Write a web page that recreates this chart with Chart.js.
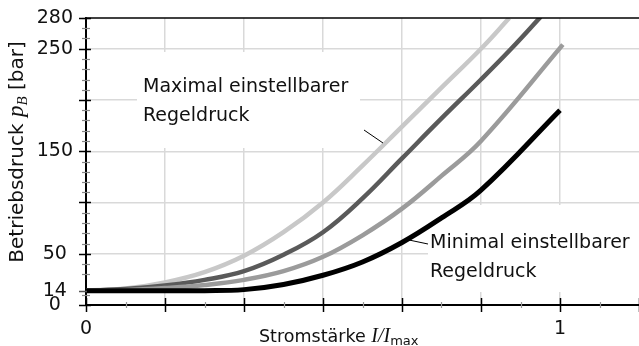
<!DOCTYPE html>
<html><head><meta charset="utf-8">
<script src="https://cdn.jsdelivr.net/npm/chart.js@4.4.1/dist/chart.umd.min.js"></script>
<style>html,body{margin:0;padding:0;background:#fff}#wrap{width:639px;height:346px;position:relative}</style>
</head><body><div id="wrap"><canvas id="c"></canvas></div>
<script>
// ---- data ----
const xMin = 0, xMax = 7/6;
const yMin = 0, yMax = 280;

const xLight = [0, 1/12, 2/12, 3/12, 4/12, 5/12, 6/12, 7/12, 8/12, 9/12, 10/12, 0.893];
const yLight = [14, 16, 22, 32, 48, 71, 100, 136, 174, 212, 250, 280];

const xDark = [0, 1/12, 2/12, 3/12, 4/12, 5/12, 6/12, 7/12, 8/12, 9/12, 10/12, 0.897, 0.959];
const yDark = [14, 15.5, 19, 24.5, 33, 49, 71, 104, 143, 182, 220, 250, 281];

const xMid = [0, 1/12, 2/12, 3/12, 4/12, 5/12, 6/12, 7/12, 8/12, 9/12, 10/12, 1.006];
const yMid = [14, 14.5, 16.5, 19.5, 24.5, 33, 47, 68, 94, 126, 160, 254];

const xBlack = [0, 1/12, 2/12, 3/12, 4/12, 5/12, 6/12, 7/12, 8/12, 9/12, 10/12, 1.0];
const yBlack = [14, 14, 14, 14, 15, 20, 29, 42, 61, 85, 112, 190];

const xLabelValues = [0, 1];
const xLabelTexts = ['0', '1'];
const xMajorStep = 1/6;
const yLabelValues = [0, 14, 50, 150, 250, 280];
const yGridValues = [50, 100, 150, 200, 250];
const yMinorStep = 10;

const annMax = ['Maximal einstellbarer', 'Regeldruck'];
const annMin = ['Minimal einstellbarer', 'Regeldruck'];

// ---- helpers ----
const SANS = '"DejaVu Sans"';
const pts = (xs, ys) => xs.map((v, i) => ({x: v, y: ys[i]}));
const near = (a, b) => Math.abs(a - b) < 1e-6;

function richWidth(ctx, segs){
  let w = 0; for (const s of segs){ ctx.font = s.font; w += ctx.measureText(s.t).width; } return w;
}
function drawRich(ctx, segs, x, y){
  let cx = x;
  for (const s of segs){ ctx.font = s.font; ctx.fillText(s.t, cx, y + (s.dy||0)); cx += ctx.measureText(s.t).width; }
}

const decor = {
  id: 'decor',
  beforeDatasetsDraw(chart){
    const {ctx, chartArea: a} = chart;
    ctx.save();
    ctx.fillStyle = '#fff';
    ctx.fillRect(137, 52, 223, 96);
    ctx.fillRect(428, 205, a.right - 428, 87);
    ctx.restore();
  },
  afterDraw(chart){
    const {ctx, chartArea: a, scales: {x, y}} = chart;
    ctx.save();
    // top border
    ctx.strokeStyle = '#000'; ctx.lineWidth = 1.6;
    ctx.beginPath(); ctx.moveTo(a.left, a.top); ctx.lineTo(a.right, a.top); ctx.stroke();
    // y tick marks
    for (let v = yMin; v <= yMax + 1e-6; v += yMinorStep){
      const py = Math.round(y.getPixelForValue(v)) + 0.5;
      const major = v % 50 === 0;
      if (!major && v === 20) continue;
      ctx.beginPath();
      if (major){ ctx.strokeStyle = '#000'; ctx.lineWidth = 1.5; ctx.moveTo(a.left - 7, py); ctx.lineTo(a.left + 5, py); }
      else { ctx.strokeStyle = '#888'; ctx.lineWidth = 1.2; ctx.moveTo(a.left - 4, py); ctx.lineTo(a.left + 4, py); }
      ctx.stroke();
    }
    for (const v of [14, 280]){
      const py = Math.round(y.getPixelForValue(v)) + 0.5;
      ctx.beginPath(); ctx.strokeStyle = v === 14 ? '#555' : '#000'; ctx.lineWidth = 1.5;
      ctx.moveTo(a.left - 7, py); ctx.lineTo(a.left + (v === 14 ? 1 : 5), py); ctx.stroke();
    }
    // x tick marks
    for (let k = 0; k <= 7; k++){
      const v = k * xMajorStep;
      if (v <= xMax + 1e-6){
        const px = Math.round(x.getPixelForValue(v)) + 0.5;
        ctx.beginPath(); ctx.strokeStyle = '#000'; ctx.lineWidth = 1.5;
        ctx.moveTo(px, a.bottom - 7); ctx.lineTo(px, a.bottom + 7); ctx.stroke();
      }
      const m = v + xMajorStep / 2;
      if (m < xMax){
        const pm = Math.round(x.getPixelForValue(m)) + 0.5;
        ctx.beginPath(); ctx.strokeStyle = '#999'; ctx.lineWidth = 1.2;
        ctx.moveTo(pm, a.bottom - 3); ctx.lineTo(pm, a.bottom + 3); ctx.stroke();
      }
    }
    // annotations
    ctx.fillStyle = '#111';
    ctx.font = '19px ' + SANS;
    ctx.textBaseline = 'alphabetic'; ctx.textAlign = 'left';
    ctx.fillText(annMax[0], 143, 92);
    ctx.fillText(annMax[1], 143, 121);
    ctx.fillText(annMin[0], 430, 248);
    ctx.fillText(annMin[1], 430, 277);
    ctx.strokeStyle = '#000'; ctx.lineWidth = 1;
    ctx.beginPath(); ctx.moveTo(364, 130); ctx.lineTo(383, 143); ctx.stroke();
    ctx.beginPath(); ctx.moveTo(409, 240); ctx.lineTo(428, 244); ctx.stroke();
    // x title
    const xt = [
      {t: 'Stromstärke ', font: '17.5px ' + SANS},
      {t: 'I', font: 'italic 20px "Liberation Serif"'},
      {t: '/', font: 'italic 20px "Liberation Serif"'},
      {t: 'I', font: 'italic 20px "Liberation Serif"'},
      {t: 'max', font: '13px ' + SANS, dy: 3}
    ];
    drawRich(ctx, xt, 259, 342);
    // y title
    const yt = [
      {t: 'Betriebsdruck ', font: '20px ' + SANS},
      {t: 'p', font: 'italic 23px "Liberation Serif"'},
      {t: 'B', font: 'italic 15px "Liberation Serif"', dy: 4},
      {t: ' [bar]', font: '20px ' + SANS}
    ];
    ctx.save();
    ctx.translate(23, 152); ctx.rotate(-Math.PI / 2);
    drawRich(ctx, yt, -richWidth(ctx, yt) / 2, 0);
    ctx.restore();
    ctx.restore();
  }
};

const line = (xs, ys, color, w, order) => ({
  data: pts(xs, ys), borderColor: color, borderWidth: w, pointRadius: 0, pointHoverRadius: 0,
  tension: 0.4, fill: false, order
});

new Chart(document.getElementById('c'), {
  type: 'line',
  data: { datasets: [
    line(xLight, yLight, '#c8c8c8', 4.5, 3),
    line(xDark, yDark, '#5a5a5a', 4.5, 2),
    line(xMid, yMid, '#9b9b9b', 4.5, 1),
    line(xBlack, yBlack, '#000000', 5, 0)
  ]},
  options: {
    responsive: true, maintainAspectRatio: false, animation: false,
    devicePixelRatio: 1,
    layout: { autoPadding: false, padding: { top: 18, right: 0, left: 0, bottom: 0 } },
    plugins: { legend: { display: false }, tooltip: { enabled: false } },
    scales: {
      x: {
        type: 'linear', min: xMin, max: xMax,
        afterBuildTicks(s){ const t = []; for (let k = 0; k * xMajorStep <= xMax + 1e-6; k++) t.push({value: k * xMajorStep}); s.ticks = t; },
        afterFit(s){ s.height = 41; s.paddingLeft = 0; s.paddingRight = 0; },
        ticks: {
          autoSkip: false, maxRotation: 0, padding: 13,
          font: { family: SANS, size: 19 }, color: '#111',
          callback(v){ const i = xLabelValues.findIndex(q => near(q, v)); return i >= 0 ? xLabelTexts[i] : ''; }
        },
        grid: {
          drawTicks: false,
          color(c){ const v = c.tick && c.tick.value; return (v > 1e-6 && v < xMax - 1e-6) ? '#d9d9d9' : 'rgba(0,0,0,0)'; },
          lineWidth: 1.5
        },
        border: { display: true, color: '#000', width: 2 }
      },
      y: {
        type: 'linear', min: yMin, max: yMax,
        afterBuildTicks(s){ const set = [...new Set([...yLabelValues, ...yGridValues])].sort((a,b)=>a-b); s.ticks = set.map(v => ({value: v})); },
        afterFit(s){ s.width = 86; s.paddingTop = 0; s.paddingBottom = 0; },
        ticks: {
          autoSkip: false, padding: 13, crossAlign: 'center',
          font: { family: SANS, size: 19 }, color: '#111',
          callback(v){ return yLabelValues.some(q => near(q, v)) ? String(v) : ''; }
        },
        grid: {
          drawTicks: false,
          color(c){ const v = c.tick && c.tick.value; return yGridValues.some(q => near(q, v)) ? '#d9d9d9' : 'rgba(0,0,0,0)'; },
          lineWidth: 1.5
        },
        border: { display: true, color: '#000', width: 2 }
      }
    }
  },
  plugins: [decor]
});
</script>
</body></html>
